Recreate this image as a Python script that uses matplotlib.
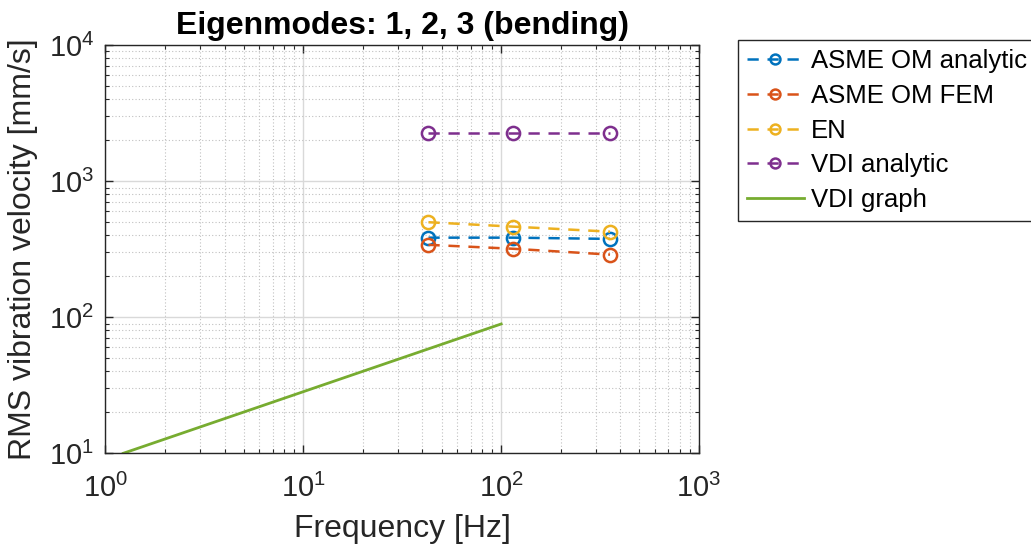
import numpy as np
import matplotlib.pyplot as plt
from matplotlib.ticker import LogLocator, NullFormatter

# eigenmode frequencies [Hz]
freqs = [42.9, 115.0, 355.0]

# RMS vibration velocity [mm/s] per method
asme_analytic = [385.0, 385.0, 377.0]
asme_fem = [341.0, 319.0, 289.0]
en = [500.0, 464.0, 426.0]
vdi_analytic = [2266.0, 2266.0, 2266.0]

# VDI graph limit line (end points)
vdi_graph_f = [1.23, 100.0]
vdi_graph_v = [10.0, 89.3]

labels = ['ASME OM analytic', 'ASME OM FEM', 'EN', 'VDI analytic', 'VDI graph']
colors = ['#0072BD', '#D95319', '#EDB120', '#7E2F8E', '#77AC30']

plt.rcParams['font.family'] = ['Liberation Sans', 'DejaVu Sans']
plt.rcParams['mathtext.fontset'] = 'custom'
plt.rcParams['mathtext.rm'] = 'Liberation Sans'
plt.rcParams['mathtext.it'] = 'Liberation Sans'
plt.rcParams['mathtext.default'] = 'regular'

fig = plt.figure(figsize=(10.31, 5.52), dpi=100)
ax = fig.add_axes([0.1023, 0.1788, 0.678 - 0.1023, 0.918 - 0.1788])

series = [asme_analytic, asme_fem, en, vdi_analytic]
for vals, c, lab in zip(series, colors[:4], labels[:4]):
    ax.plot(freqs, vals, '--o', color=c, lw=1.8, ms=9.5, mfc='none', mew=1.8,
            label=lab, dashes=(4.5, 3.5))
ax.plot(vdi_graph_f, vdi_graph_v, '-', color=colors[4], lw=2.0, label=labels[4])

ax.set_xscale('log')
ax.set_yscale('log')
ax.set_xlim(1, 1000)
ax.set_ylim(10, 10000)

ax.xaxis.set_major_locator(LogLocator(base=10, numticks=10))
ax.yaxis.set_major_locator(LogLocator(base=10, numticks=10))
ax.xaxis.set_minor_locator(LogLocator(base=10, subs=np.arange(2, 10), numticks=20))
ax.yaxis.set_minor_locator(LogLocator(base=10, subs=np.arange(2, 10), numticks=20))
ax.xaxis.set_minor_formatter(NullFormatter())
ax.yaxis.set_minor_formatter(NullFormatter())

ax.grid(True, which='major', color='#d9d9d9', lw=1.0, ls='-')
ax.grid(True, which='minor', color='#c0c0c0', lw=0.8, ls=(0, (1, 2)))
ax.set_axisbelow(True)

ax.tick_params(which='both', direction='in', top=True, right=True, colors='#262626',
               labelcolor='#262626', labelsize=21)
ax.tick_params(axis='x', which='major', pad=15)
ax.tick_params(axis='y', which='major', pad=8)
ax.tick_params(which='major', length=6, width=1.0)
ax.tick_params(which='minor', length=3, width=0.8)
for s in ax.spines.values():
    s.set_color('#262626')
    s.set_linewidth(1.0)

ax.set_xlabel('Frequency [Hz]', fontsize=23, color='#262626', labelpad=8)
ax.set_ylabel('RMS vibration velocity [mm/s]', fontsize=23, color='#262626', labelpad=8)
ax.set_title('Eigenmodes: 1, 2, 3 (bending)', fontsize=23, fontweight='bold', pad=8)

leg = ax.legend(loc='upper left', bbox_to_anchor=(738 / 1031, (552 - 40) / 552),
                bbox_transform=fig.transFigure, borderaxespad=0, fontsize=18.5,
                fancybox=False, edgecolor='#262626', framealpha=1,
                handlelength=2.2, handletextpad=0.3, labelspacing=0.42,
                borderpad=0.35, numpoints=1, markerscale=0.75)
leg.get_frame().set_linewidth(1.0)

fig.savefig('out.png', dpi=100)
